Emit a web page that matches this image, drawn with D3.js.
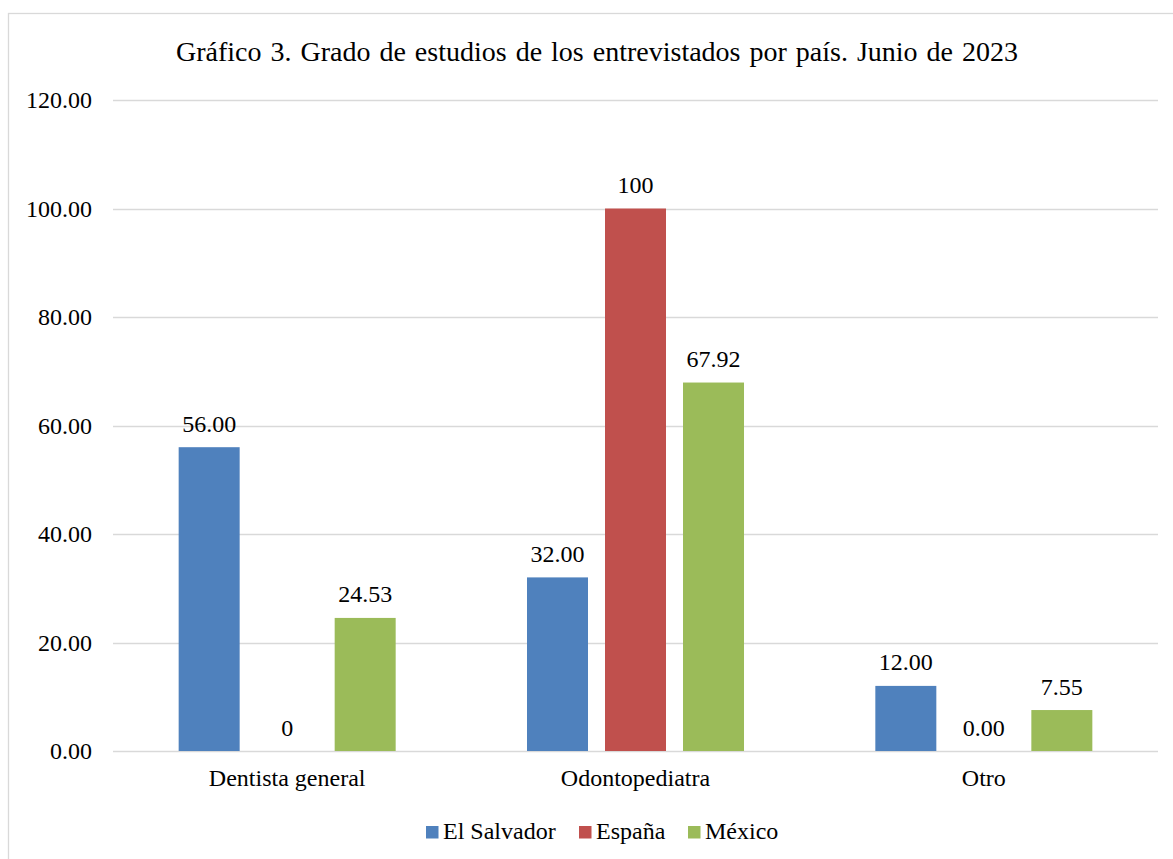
<!DOCTYPE html>
<html>
<head>
<meta charset="utf-8">
<script src="https://cdn.jsdelivr.net/npm/d3@7"></script>
<style>
html,body{margin:0;padding:0;background:#fff;}
svg text{font-family:"Liberation Serif","Times New Roman",serif;fill:#000;}
</style>
</head>
<body>
<svg id="chart" width="1173" height="859"></svg>
<script>
const title = "Gráfico 3. Grado de estudios de los entrevistados por país. Junio de 2023";
const categories = ["Dentista general", "Odontopediatra", "Otro"];
const seriesNames = ["El Salvador", "España", "México"];
const seriesColors = ["#4F81BD", "#C0504D", "#9BBB59"];
const elSalvador = [56.00, 32.00, 12.00];
const espana = [0, 100, 0.00];
const mexico = [24.53, 67.92, 7.55];
const elSalvadorLabels = ["56.00", "32.00", "12.00"];
const espanaLabels = ["0", "100", "0.00"];
const mexicoLabels = ["24.53", "67.92", "7.55"];
const yTicks = [0, 20, 40, 60, 80, 100, 120];

const seriesValues = [elSalvador, espana, mexico];
const seriesLabels = [elSalvadorLabels, espanaLabels, mexicoLabels];

const svg = d3.select("#chart");
const plotLeft = 113, plotRight = 1158, plotTop = 100, plotBottom = 751;

// chart border
svg.append("rect").attr("x", 8.5).attr("y", 13.5).attr("width", 1180).attr("height", 860)
  .attr("fill", "#fff").attr("stroke", "#d9d9d9").attr("stroke-width", 1.3);

const y = d3.scaleLinear().domain([0, 120]).range([plotBottom, plotTop]);
const x0 = d3.scaleBand().domain(categories).range([plotLeft, plotRight]).padding(0);
const groupGap = x0.bandwidth() * 0.1885;
const x1 = d3.scaleBand().domain(seriesNames).range([groupGap, x0.bandwidth() - groupGap])
  .paddingInner(0.218).paddingOuter(0);

// gridlines
svg.append("g").selectAll("line").data(yTicks).join("line")
  .attr("x1", plotLeft).attr("x2", plotRight)
  .attr("y1", d => Math.round(y(d)) + 0.5).attr("y2", d => Math.round(y(d)) + 0.5)
  .attr("stroke", "#d9d9d9").attr("stroke-width", 1.3);

// y axis labels
const yAxis = d3.axisLeft(y).tickValues(yTicks).tickFormat(d3.format(".2f")).tickSize(0).tickPadding(21);
const ya = svg.append("g").attr("transform", `translate(${plotLeft},0)`).call(yAxis);
ya.select(".domain").remove();
ya.attr("font-size", null).attr("font-family", null);
ya.selectAll("text").attr("font-size", 24).attr("fill", "#000");

// x axis labels
const xAxis = d3.axisBottom(x0).tickSize(0).tickPadding(18);
const xa = svg.append("g").attr("transform", `translate(0,${plotBottom})`).call(xAxis);
xa.select(".domain").remove();
xa.attr("font-size", null).attr("font-family", null);
xa.selectAll("text").attr("font-size", 24).attr("fill", "#000");

// bars
const flat = [];
categories.forEach((c, ci) => {
  seriesNames.forEach((s, si) => {
    flat.push({cat: c, ser: s, si, v: seriesValues[si][ci], label: seriesLabels[si][ci]});
  });
});

svg.append("g").selectAll("rect").data(flat).join("rect")
  .attr("x", d => x0(d.cat) + x1(d.ser))
  .attr("y", d => y(d.v))
  .attr("width", x1.bandwidth())
  .attr("height", d => y(0) - y(d.v))
  .attr("fill", d => seriesColors[d.si]);

svg.append("g").selectAll("text").data(flat).join("text")
  .attr("x", d => x0(d.cat) + x1(d.ser) + x1.bandwidth() / 2)
  .attr("y", d => y(d.v) - 15.5)
  .attr("text-anchor", "middle")
  .attr("font-size", 24)
  .text(d => d.label);

// title
svg.append("text").attr("x", 597).attr("y", 61).attr("text-anchor", "middle")
  .attr("font-size", 28).attr("word-spacing", 2).text(title);

// legend
const legendItems = [
  {name: seriesNames[0], color: seriesColors[0], x: 426},
  {name: seriesNames[1], color: seriesColors[1], x: 579},
  {name: seriesNames[2], color: seriesColors[2], x: 688}
];
const lg = svg.append("g");
legendItems.forEach(it => {
  lg.append("rect").attr("x", it.x).attr("y", 826).attr("width", 12.5).attr("height", 12.5).attr("fill", it.color);
  lg.append("text").attr("x", it.x + 17).attr("y", 839).attr("font-size", 24).text(it.name);
});
</script>
</body>
</html>
